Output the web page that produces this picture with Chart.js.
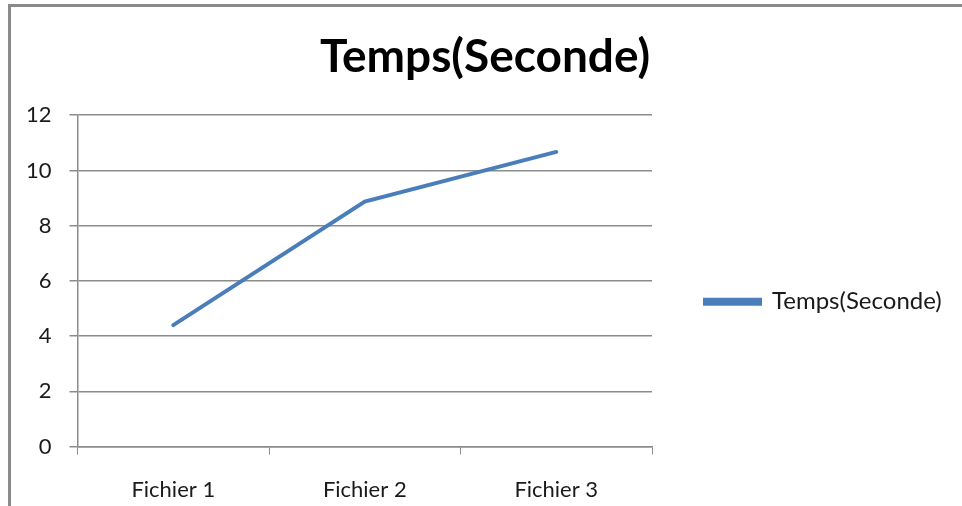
<!DOCTYPE html>
<html lang="fr">
<head>
    <meta charset="UTF-8">
    <title>Temps(Seconde)</title>
    <style>
        html, body {
            margin: 0;
            padding: 0;
            background: #ffffff;
        }
        .frame {
            position: absolute;
            left: 8px;
            top: 4px;
            width: 954px;
            height: 502px;
            border-top: 3px solid #8a8a8a;
            border-left: 3px solid #8a8a8a;
            box-sizing: border-box;
        }
        .chart-container {
            position: absolute;
            left: 0;
            top: 0;
            width: 962px;
            height: 506px;
        }
    </style>
</head>
<body>
    <div class="frame"></div>
    <div class="chart-container">
        <canvas id="tempsChart"></canvas>
    </div>

    <script src="https://cdn.jsdelivr.net/npm/chart.js@4.4.3/dist/chart.umd.min.js"></script>
    <script>
        // Données
        const categories = ['Fichier 1', 'Fichier 2', 'Fichier 3'];
        const tempsSeconde = [4.4, 8.87, 10.67];
        const yTicks = [0, 2, 4, 6, 8, 10, 12];

        const fontFamily = 'Lato, "Open Sans", sans-serif';
        const gridColor = '#8c8c8c';

        // La légende à droite prend plus que la place autorisée par défaut
        const legendWidth = {
            id: 'legendWidth',
            afterInit(chart) {
                const legend = chart.legend;
                const fit = legend.fit;
                legend.fit = function () {
                    fit.call(this);
                    this.width = 310;
                };
            }
        };

        const ctx = document.getElementById('tempsChart').getContext('2d');
        new Chart(ctx, {
            type: 'line',
            data: {
                labels: categories,
                datasets: [{
                    label: 'Temps(Seconde)',
                    data: tempsSeconde,
                    borderColor: '#4a7ebb',
                    backgroundColor: '#4a7ebb',
                    borderWidth: 4,
                    borderCapStyle: 'round',
                    pointRadius: 0,
                    fill: false,
                    tension: 0
                }]
            },
            options: {
                responsive: true,
                maintainAspectRatio: false,
                animation: false,
                layout: {
                    padding: { left: 8, right: 0, top: 0, bottom: -19 }
                },
                plugins: {
                    title: {
                        display: true,
                        text: 'Temps(Seconde)',
                        color: '#000000',
                        font: { family: fontFamily, size: 46, weight: 'bold' },
                        padding: { top: 30, bottom: 30 }
                    },
                    legend: {
                        position: 'right',
                        title: {
                            display: true,
                            text: ' ',
                            padding: { top: 0, bottom: 64 }
                        },
                        labels: {
                            color: '#1a1a1a',
                            font: { family: fontFamily, size: 24 },
                            boxWidth: 55,
                            boxHeight: 4,
                            padding: 53
                        }
                    },
                    tooltip: { enabled: false }
                },
                scales: {
                    x: {
                        offset: true,
                        grid: {
                            offset: true,
                            drawOnChartArea: false,
                            drawTicks: true,
                            tickLength: 8,
                            color: gridColor
                        },
                        border: { color: gridColor, width: 1.5 },
                        ticks: {
                            color: '#1a1a1a',
                            font: { family: fontFamily, size: 22 },
                            padding: 22
                        }
                    },
                    y: {
                        min: 0,
                        max: 12,
                        afterBuildTicks: (axis) => {
                            axis.ticks = yTicks.map(v => ({ value: v }));
                        },
                        grid: {
                            color: gridColor,
                            lineWidth: 1.5,
                            tickLength: 8
                        },
                        border: { color: gridColor, width: 1.5 },
                        ticks: {
                            color: '#1a1a1a',
                            font: { family: fontFamily, size: 22 },
                            padding: 18
                        }
                    }
                }
            },
            plugins: [legendWidth]
        });
    </script>
</body>
</html>
